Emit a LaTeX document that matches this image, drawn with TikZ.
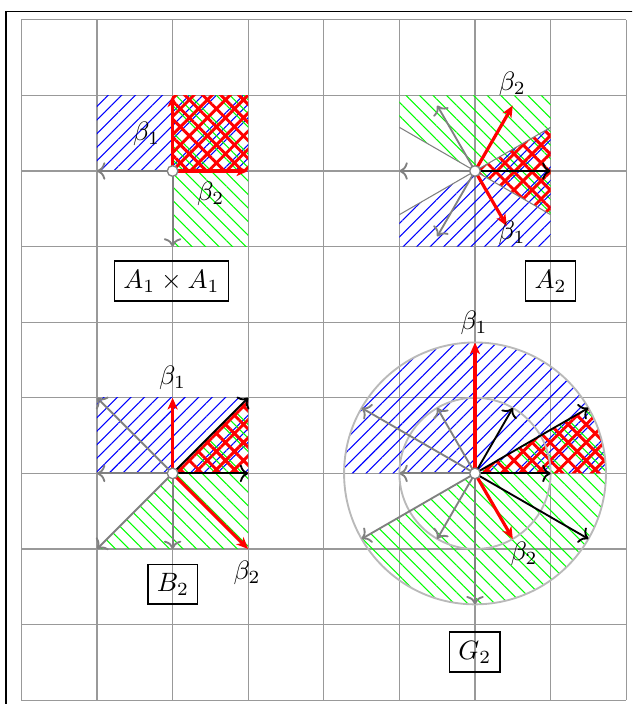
\documentclass[tikz,border=0pt]{standalone}
\usetikzlibrary{patterns,patterns.meta,arrows.meta}
\tikzset{
  frameline/.style={black,line width=0.5pt},
  gridline/.style={gray!80,line width=0.45pt},
  wall/.style={gray,line width=0.4pt},
  negroot/.style={->,gray,line width=0.7pt},
  posroot/.style={->,black,line width=0.7pt},
  simpleroot/.style={-{Stealth[length=4.4pt,width=3.8pt,inset=1.2pt]},red,line width=1.2pt},
  bluehatch/.style={pattern={Lines[angle=45,distance=3.6pt,line width=0.4pt]},pattern color=blue},
  greenhatch/.style={pattern={Lines[angle=-45,distance=3.6pt,line width=0.4pt]},pattern color=green},
  redhatch/.style={pattern={Hatch[angle=45,distance=4.8pt,line width=1.1pt]},pattern color=red},
  odot/.style={circle,fill=white,draw=gray,line width=0.5pt,inner sep=0pt,minimum size=4pt},
  namebox/.style={draw=black,line width=0.45pt},
  rootlabel/.style={inner sep=0pt},
  ring/.style={gray!55,line width=0.7pt}
}
\begin{document}
\begin{tikzpicture}
\useasboundingbox (-0.283,-0.050) rectangle (8.077,9.262);
\clip (-0.283,-0.050) rectangle (8.077,9.262);
\draw[frameline] (-0.204,9.107) rectangle (8.8,-0.8);
\draw[gridline] (0,0) grid (8,9);

% ---------- A1 x A1 ----------
\begin{scope}[shift={(2,7)}]
  \fill[bluehatch] (-1,0) rectangle (1,1);
  \fill[greenhatch] (0,-1) rectangle (1,1);
  \fill[redhatch] (0,0) rectangle (1,1);
  \coordinate (ao) at (0,0);
  \coordinate (an1) at (-1,0);
  \coordinate (an2) at (0,-1);
  \coordinate (ab1) at (0,1);
  \coordinate (ab2) at (1,0);
  \draw[negroot] (ao) -- (an1);
  \draw[negroot] (ao) -- (an2);
  \draw[simpleroot] (ao) -- (ab1);
  \draw[simpleroot] (ao) -- (ab2);
  \node[odot] (aodot) at (ao) {};
  \node[rootlabel] (alb1) at (-0.343,0.49) {$\beta_1$};
  \node[rootlabel] (alb2) at (0.504,-0.304) {$\beta_2$};
\end{scope}
\node[namebox] (nameA) at (1.985,5.545) {$A_1\times A_1$};

% ---------- A2 ----------
\begin{scope}[shift={(6,7)}]
  \fill[greenhatch] (-1,0.57735) -- (-1,1) -- (1,1) -- (1,-0.57735) -- cycle;
  \fill[bluehatch] (-1,-0.57735) -- (1,0.57735) -- (1,-1) -- (-1,-1) -- cycle;
  \fill[redhatch] (0,0) -- (1,0.57735) -- (1,-0.57735) -- cycle;
  \coordinate (bo) at (0,0);
  \coordinate (bw1) at (-1,0.57735);
  \coordinate (bw2) at (1,-0.57735);
  \coordinate (bw3) at (-1,-0.57735);
  \coordinate (bw4) at (1,0.57735);
  \draw[wall] (bw1) -- (bw2);
  \draw[wall] (bw3) -- (bw4);
  \coordinate (bn1) at (120:1);
  \coordinate (bn2) at (180:1);
  \coordinate (bn3) at (240:1);
  \coordinate (bp1) at (0:1);
  \coordinate (bb1) at (-60:0.84);
  \coordinate (bb2) at (60:1);
  \draw[negroot] (bo) -- (bn1);
  \draw[negroot] (bo) -- (bn2);
  \draw[negroot] (bo) -- (bn3);
  \draw[posroot] (bo) -- (bp1);
  \draw[simpleroot] (bo) -- (bb1);
  \draw[simpleroot] (bo) -- (bb2);
  \node[odot] (bodot) at (bo) {};
  \node[rootlabel] (blb2) at (0.493,1.151) {$\beta_2$};
  \node[rootlabel] (blb1) at (0.489,-0.816) {$\beta_1$};
\end{scope}
\node[namebox] (nameB) at (6.999,5.545) {$A_2$};

% ---------- B2 ----------
\begin{scope}[shift={(2,3)}]
  \fill[bluehatch] (-1,0) rectangle (1,1);
  \fill[greenhatch] (-1,-1) -- (1,1) -- (1,-1) -- cycle;
  \fill[redhatch] (0,0) -- (1,1) -- (1,0) -- cycle;
  \coordinate (co) at (0,0);
  \coordinate (cn1) at (-1,1);
  \coordinate (cn2) at (-1,0);
  \coordinate (cn3) at (-1,-1);
  \coordinate (cn4) at (0,-1);
  \coordinate (cp1) at (1,1);
  \coordinate (cp2) at (1,0);
  \coordinate (cb1) at (0,1);
  \coordinate (cb2) at (1,-1);
  \draw[negroot] (co) -- (cn1);
  \draw[negroot] (co) -- (cn2);
  \draw[negroot] (co) -- (cn3);
  \draw[negroot] (co) -- (cn4);
  \draw[posroot] (co) -- (cp1);
  \draw[posroot] (co) -- (cp2);
  \draw[simpleroot] (co) -- (cb1);
  \draw[simpleroot] (co) -- (cb2);
  \node[odot] (codot) at (co) {};
  \node[rootlabel] (clb1) at (0,1.265) {$\beta_1$};
  \node[rootlabel] (clb2) at (0.984,-1.321) {$\beta_2$};
\end{scope}
\node[namebox] (nameC) at (2.005,1.536) {$B_2$};

% ---------- G2 ----------
\begin{scope}[shift={(6,3)}]
  \fill[bluehatch] (0,0) -- (0:1.732) arc[start angle=0,end angle=180,radius=1.732] -- cycle;
  \fill[greenhatch] (0,0) -- (30:1.732) arc[start angle=30,end angle=-150,radius=1.732] -- cycle;
  \fill[redhatch] (0,0) -- (0:1.732) arc[start angle=0,end angle=30,radius=1.732] -- cycle;
  \draw[ring] (0,0) circle[radius=1];
  \draw[ring] (0,0) circle[radius=1.732];
  \coordinate (do) at (0,0);
  \coordinate (dn1) at (270:1.732);
  \coordinate (dn2) at (120:1);
  \coordinate (dn3) at (240:1);
  \coordinate (dn4) at (180:1);
  \coordinate (dn5) at (150:1.732);
  \coordinate (dn6) at (210:1.732);
  \coordinate (dp1) at (60:1);
  \coordinate (dp2) at (0:1);
  \coordinate (dp3) at (30:1.732);
  \coordinate (dp4) at (-30:1.732);
  \coordinate (db1) at (90:1.732);
  \coordinate (db2) at (-60:1);
  \draw[negroot] (do) -- (dn1);
  \draw[negroot] (do) -- (dn2);
  \draw[negroot] (do) -- (dn3);
  \draw[negroot] (do) -- (dn4);
  \draw[negroot] (do) -- (dn5);
  \draw[negroot] (do) -- (dn6);
  \draw[posroot] (do) -- (dp1);
  \draw[posroot] (do) -- (dp2);
  \draw[posroot] (do) -- (dp3);
  \draw[posroot] (do) -- (dp4);
  \draw[simpleroot] (do) -- (db1);
  \draw[simpleroot] (do) -- (db2);
  \node[odot] (dodot) at (do) {};
  \node[rootlabel] (dlb1) at (-0.013,1.985) {$\beta_1$};
  \node[rootlabel] (dlb2) at (0.648,-1.069) {$\beta_2$};
\end{scope}
\node[namebox] (nameD) at (5.997,0.638) {$G_2$};
\end{tikzpicture}
\end{document}
